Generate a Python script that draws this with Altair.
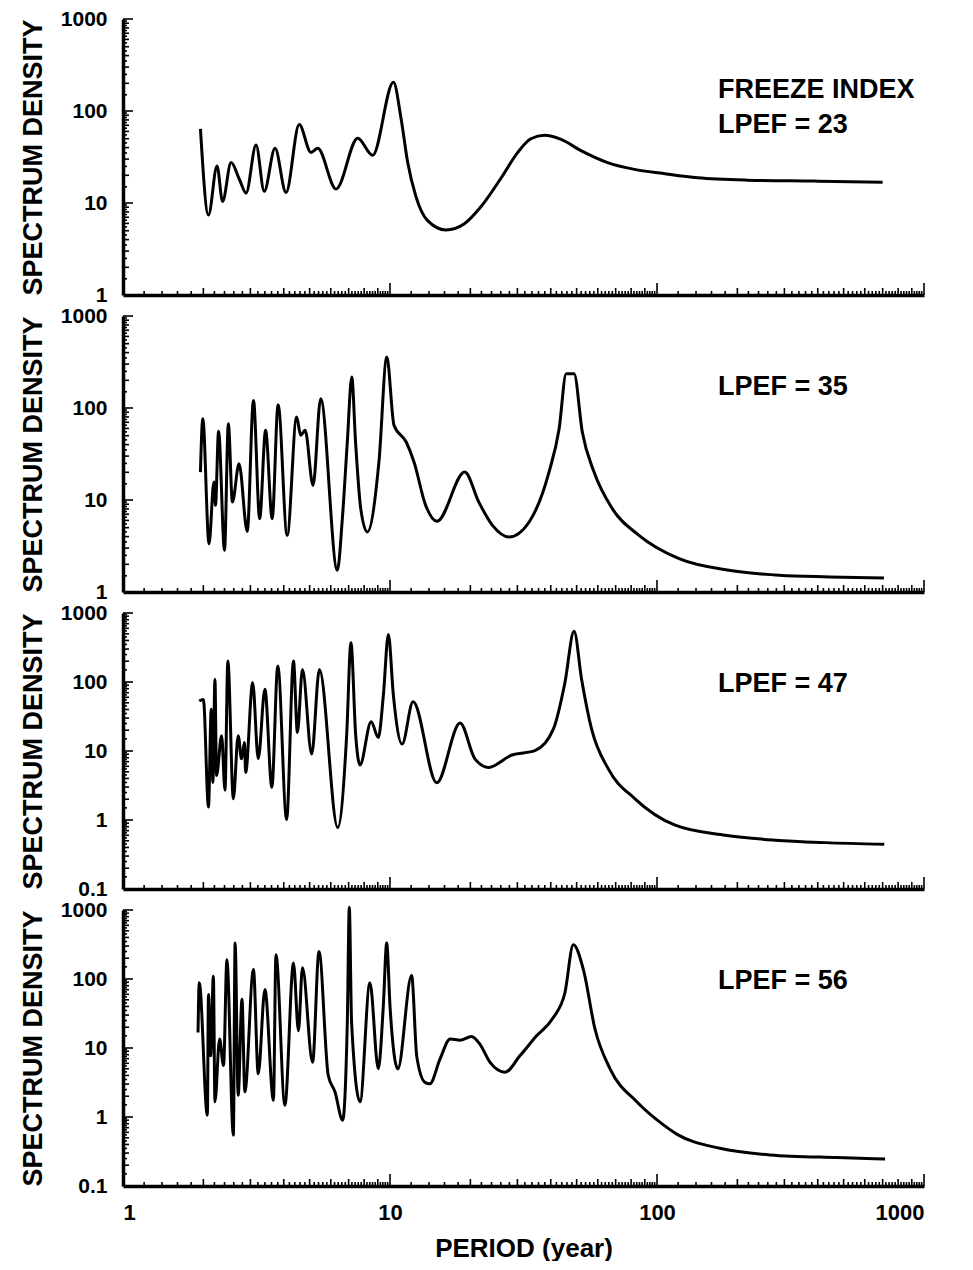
import altair as alt
import pandas as pd

FONT = "Liberation Sans"
W = 801
H = 276

# ---------------- data ----------------
p1_period = [1.95, 2.09, 2.25, 2.36, 2.54, 2.73, 2.89, 3.15, 3.38, 3.71, 4.08, 4.57, 5.06, 5.36, 6.28,
             7.57, 8.61, 10.3, 11.0, 11.65, 12.5, 13.8, 16.2, 19.0, 21.9, 26.1, 30.1, 33.7, 37.9,
             43.7, 51.9, 65.3, 82.2, 106, 142, 219, 388, 700]
p1_density = [64, 7.4, 25.3, 10.4, 27.5, 18, 12.8, 42.8, 13.4, 39.3, 13.0, 71.2, 35.5, 39.3, 14.2,
              50.7, 33, 205, 83, 27.5, 11.8, 6.48, 5.1, 5.96, 9.1, 18.8, 35.5, 49.9, 54.4,
              49.1, 37.1, 27.5, 23.2, 20.9, 18.8, 17.7, 17.3, 16.8]

p2_period = [1.95, 1.99, 2.10, 2.19, 2.22, 2.28, 2.40, 2.48, 2.57, 2.72, 2.92, 3.08, 3.25, 3.42, 3.62,
             3.81, 4.12, 4.47, 4.63, 4.81, 5.15, 5.50, 6.35, 6.63, 6.92, 7.19, 7.43, 7.77, 8.22, 9.09,
             9.73, 10.35, 11.5, 12.3, 13.6, 15.0, 19.05, 21.5, 24.2, 27.9, 33.2, 39.4, 43.0, 45.7,
             48.9, 52.5, 58.1, 68.0, 85.6, 121, 186, 287, 441, 708]
p2_density = [20.1, 76.5, 3.35, 15.7, 8.75, 55.8, 2.84, 67.6, 9.5, 24.8, 4.56, 121, 6.27, 57.2, 6.27,
              108.6, 4.13, 79.8, 50.5, 57.2, 14.4, 126, 1.72, 6.27, 42.7, 217, 42.7, 8.05, 4.49, 25.9,
              358, 64.9, 42.7, 25.9, 8.75, 5.87, 20.1, 9.5, 5.3, 3.96, 5.77, 20.1, 59.6, 236,
              236, 54.8, 20.1, 8.05, 4.13, 2.30, 1.72, 1.52, 1.46, 1.42]

p3_period = [1.93, 2.0, 2.09, 2.14, 2.17, 2.21, 2.24, 2.34, 2.41, 2.47, 2.59, 2.70, 2.78, 2.85, 2.88,
             3.06, 3.21, 3.40, 3.61, 3.80, 4.10, 4.35, 4.50, 4.70, 5.09, 5.44, 6.37, 6.88, 7.14, 7.44,
             7.72, 8.5, 9.04, 9.44, 9.86, 10.3, 11.1, 12.2, 14.96, 18.3, 20.8, 23.4, 28.6, 34.9, 40.9,
             45.2, 48.9, 52.2, 56.9, 65.7, 82.7, 117, 180, 277, 426, 710]
p3_density = [53, 56, 1.54, 40.4, 3.5, 109, 4.4, 16.7, 2.7, 202, 2.03, 16.7, 7.7, 13.3, 4.9,
              97.7, 7.7, 78.3, 2.99, 171, 1.02, 202, 18.6, 152, 9.06, 152, 0.776, 16.7, 371, 16.7,
              6.28, 26.5, 15.7, 63, 488, 63, 12.6, 51.6, 3.46, 25.4, 7.7, 5.79, 8.75, 10.1, 20.7,
              97.7, 546, 109, 20.7, 5.5, 2.03, 0.84, 0.60, 0.51, 0.47, 0.445]

p4_period = [1.91, 1.93, 2.07, 2.09, 2.13, 2.18, 2.21, 2.30, 2.38, 2.45, 2.59, 2.63, 2.70, 2.79, 2.86,
             3.08, 3.21, 3.40, 3.66, 3.74, 4.04, 4.35, 4.54, 4.70, 5.13, 5.42, 5.87, 6.22, 6.65, 6.92,
             7.04, 7.18, 7.72, 8.41, 9.04, 9.44, 9.72, 10.0, 10.7, 12.05, 12.6, 13.5, 14.1, 15.4, 16.8,
             18.3, 20.2, 21.7, 23.7, 27.0, 30.7, 35.4, 40.9, 45.2, 48.6, 53.0, 58.6, 66.7, 84.0, 106,
             119, 172, 265, 471, 715]
p4_density = [16.8, 88, 1.06, 59.8, 7.7, 110, 1.66, 13.5, 5.56, 190, 0.547, 332, 2.07, 50.7, 2.32,
              137, 4.22, 70.6, 1.75, 225, 1.48, 171, 17.8, 145, 6.22, 251, 4.02, 2.32, 0.90, 23.5,
              1100, 23.5, 1.66, 88, 4.99, 40.6, 332, 40.6, 4.99, 112, 7.5, 3.2, 3.03, 6.95, 13.5,
              13.0, 14.7, 11.4, 6.2, 4.47, 7.76, 15.0, 27.6, 63.2, 313, 137, 18.7, 4.99, 1.66, 0.762,
              0.56, 0.352, 0.282, 0.258, 0.247]

notes = ["FREEZE INDEX\nLPEF = 23", "LPEF = 35", "LPEF = 47", "LPEF = 56"]
x_tick_labels = [1, 10, 100, 1000]
y_labels_a = [1, 10, 100, 1000]
y_labels_b = [0.1, 1, 10, 100, 1000]
y_title = "SPECTRUM DENSITY"
x_title = "PERIOD (year)"

# ---------------- minor tick positions (axis decoration) ----------------
def x_minor():
    small, mid, big = [], [], []
    for d in [1, 10, 100]:
        for k in range(1, 46):
            m = round(1 + 0.2 * k, 6)
            v = round(d * m, 6)
            if abs(m - 10) < 1e-9:
                big.append(v)
            elif abs(m - round(m)) < 1e-9:
                mid.append(v)
            else:
                small.append(v)
    return small, mid, big


def y_minor(lo, hi):
    small, mid, big = [], [], []
    d = lo
    while d < hi * 0.999:
        for k in range(3, 21):
            m = k * 0.5
            v = round(d * m, 8)
            if k == 20:
                big.append(v)
            elif k % 2 == 0:
                mid.append(v)
            else:
                small.append(v)
        d = d * 10
    return small, mid, big


XS, XM, XB = x_minor()
xscale = alt.Scale(type="log", domain=[1, 1000])


def panel(period, density, ydomain, ylabels, note, bottom):
    yscale = alt.Scale(type="log", domain=ydomain)
    df = pd.DataFrame({"period": period, "density": density})
    if bottom:
        xaxis = alt.Axis(values=x_tick_labels, format="~g", title=x_title, labels=True)
    else:
        xaxis = alt.Axis(values=x_tick_labels, labels=False, title=None)
    yaxis = alt.Axis(values=ylabels, format="~g", title=y_title)
    xenc = alt.X("period:Q", scale=xscale, axis=xaxis)
    yenc = alt.Y("density:Q", scale=yscale, axis=yaxis)
    line = alt.Chart(df).mark_line(
        color="black", strokeWidth=3, interpolate="monotone", clip=False
    ).encode(x=xenc, y=yenc)
    layers = []
    for vals, L in [(XS, 4), (XM, 7), (XB, 12)]:
        layers.append(
            alt.Chart(pd.DataFrame({"period": vals})).mark_rule(color="black", strokeWidth=1.6)
            .encode(x=xenc, y=alt.value(H), y2=alt.value(H - L))
        )
    ys, ym, yb = y_minor(ydomain[0], ydomain[1])
    for vals, L in [(ys, 4), (ym, 6), (yb, 10)]:
        layers.append(
            alt.Chart(pd.DataFrame({"density": vals})).mark_rule(color="black", strokeWidth=1.6)
            .encode(y=yenc, x=alt.value(0), x2=alt.value(L))
        )
    text = alt.Chart(pd.DataFrame({"note": [note]})).mark_text(
        align="left", baseline="alphabetic", font=FONT, fontWeight="bold",
        fontSize=27, lineBreak="\n", lineHeight=35, color="black"
    ).encode(x=alt.value(595), y=alt.value(79), text="note:N")
    return alt.layer(line, *layers, text).properties(width=W, height=H)


p1 = panel(p1_period, p1_density, [1, 1000], y_labels_a, notes[0], False)
p2 = panel(p2_period, p2_density, [1, 1000], y_labels_a, notes[1], False)
p3 = panel(p3_period, p3_density, [0.1, 1000], y_labels_b, notes[2], False)
p4 = panel(p4_period, p4_density, [0.1, 1000], y_labels_b, notes[3], True)

chart = alt.vconcat(p1, p2, p3, p4, spacing=21, bounds="flush").properties(
    padding={"left": 11, "top": 0, "right": 5, "bottom": 0},
    background="white",
).configure_view(stroke=None).configure_axis(
    grid=False,
    ticks=False,
    tickSize=0,
    domainColor="black",
    domainWidth=3.5,
    labelFont=FONT,
    labelFontWeight="bold",
    labelColor="black",
    titleFont=FONT,
    titleFontWeight="bold",
    titleColor="black",
).configure_axisY(
    labelFontSize=21,
    labelPadding=16,
    titleFontSize=27,
    titlePadding=13,
).configure_axisX(
    labelFontSize=22,
    labelPadding=16,
    titleFontSize=26,
    titlePadding=12,
)

chart.save("out.html", embed_options={"renderer": "svg", "actions": False})
